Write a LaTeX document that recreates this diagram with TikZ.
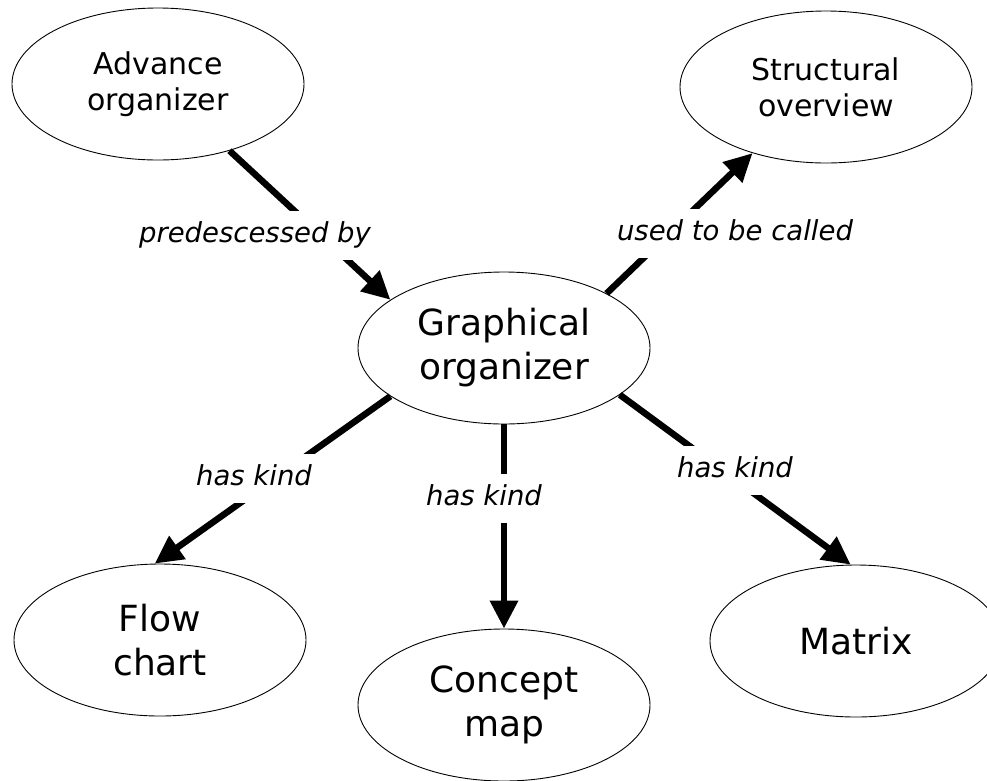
\documentclass[tikz,border=0pt]{standalone}
\usepackage{fontspec}
\setmainfont{DejaVu Sans}
\usetikzlibrary{shapes.geometric,arrows.meta}
\begin{document}
\begin{tikzpicture}[x=1pt,y=-1pt,
  concept/.style={ellipse,draw,line width=0.9pt,inner sep=0pt,minimum width=292pt,minimum height=152pt,align=center},
  bigtext/.style={font=\fontsize{36}{44}\selectfont},
  smalltext/.style={font=\fontsize{30}{36}\selectfont},
  link/.style={line width=6.5pt,-{Triangle[length=28pt,width=27pt]}},
  lbl/.style={fill=white,font=\itshape\fontsize{27.5}{32}\selectfont,inner xsep=4pt,inner ysep=11pt,text height=20.5pt,text depth=6.5pt,anchor=base}]
\clip (0,0) rectangle (987,780);
\fill[white] (0,0) rectangle (987,780);
\node[concept,smalltext] (adv) at (158,84) {Advance\\organizer};
\node[concept,smalltext] (str) at (826,87) {Structural\\overview};
\node[concept,bigtext] (gra) at (504,348) {Graphical\\organizer};
\node[concept,bigtext] (flo) at (160,640) {Flow\\chart};
\node[concept,bigtext] (con) at (504,705) {Concept\\map};
\node[concept,bigtext] (mat) at (856,641) {Matrix};

\draw[link] (adv.-43) -- (gra.157.7);
\draw[link] (gra.28.3) -- (str.-138.3);
\draw[link] (gra.-157.3) -- (flo.94);
\draw[link] (gra.south) -- (con.north);
\draw[link] (gra.-22.6) -- (mat.94.5);

\node[lbl] (l1) at (255,242) {predescessed by};
\node[lbl] (l2) at (735,240) {used to be called};
\node[lbl] (l3) at (254,485) {has kind};
\node[lbl] (l4) at (484,505) {has kind};
\node[lbl] (l5) at (735,477) {has kind};
\end{tikzpicture}
\end{document}
